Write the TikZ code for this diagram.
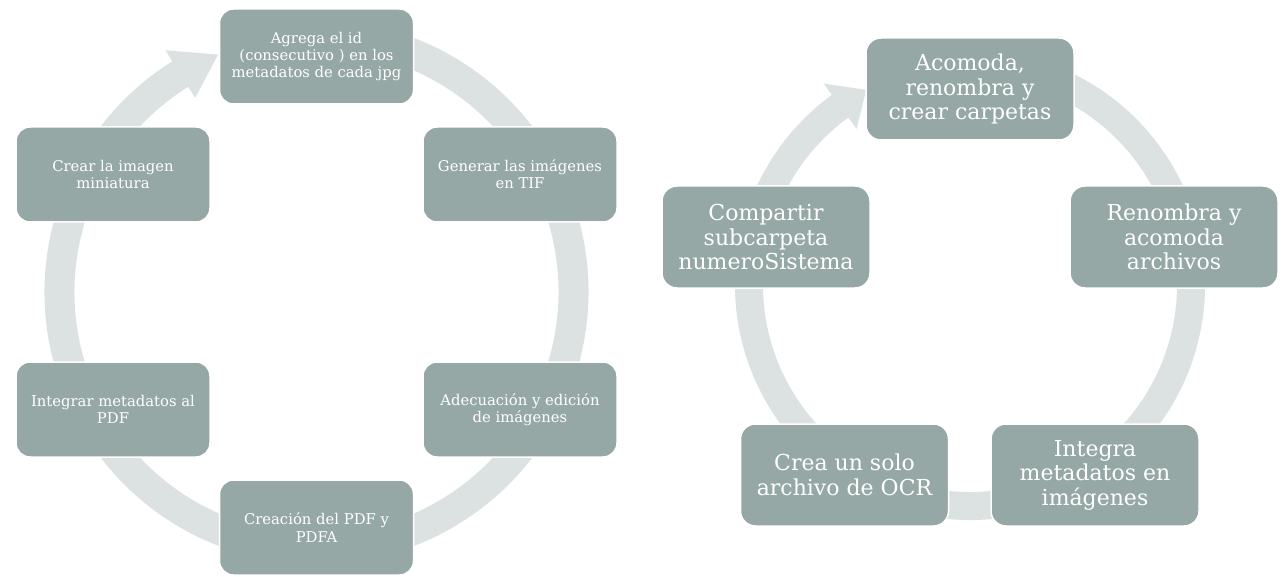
\documentclass[tikz,border=0pt]{standalone}
\usepackage{fontspec}
\setmainfont{DejaVu Serif}
\usetikzlibrary{calc}
\definecolor{boxfill}{HTML}{95A8A5}
\definecolor{ringfill}{HTML}{DCE2E2}
\begin{document}
\begin{tikzpicture}[x=1pt,y=1pt,
  lbox/.style={rectangle, rounded corners=14pt, fill=boxfill, draw=white, line width=1.5pt,
    minimum width=194pt, minimum height=95pt, text=white, align=center, inner sep=0pt,
    font=\fontsize{14.8}{17.2}\selectfont},
  rbox/.style={rectangle, rounded corners=15pt, fill=boxfill, draw=white, line width=1.5pt,
    minimum width=208pt, minimum height=102pt, text=white, align=center, inner sep=0pt,
    font=\fontsize{22}{24.5}\selectfont},
  ringband/.style={fill=ringfill}]
\useasboundingbox (0,0) rectangle (1281,-577);
\fill[white] (0,0) rectangle (1281,-577);
% centres of the two cycles
\coordinate (cL) at (316.5,-292);
\coordinate (cR) at (970,-285);
% left cycle band with arrowhead
\fill[ringband] ($(cL)+(80:272)$) arc[start angle=80, end angle=-238, radius=272]
  -- ($(cL)+(-238:285)$) -- ($(cL)+(-247.5:257)$) -- ($(cL)+(-238:229)$)
  -- ($(cL)+(-238:242)$) arc[start angle=-238, end angle=80, radius=242] -- cycle;
% right cycle band with arrowhead
\fill[ringband] ($(cR)+(80:235)$) arc[start angle=80, end angle=-234, radius=235]
  -- ($(cR)+(-234:249)$) -- ($(cR)+(-242:221)$) -- ($(cR)+(-234:193)$)
  -- ($(cR)+(-234:207)$) arc[start angle=-234, end angle=80, radius=207] -- cycle;
% left nodes
\node[lbox] (l1) at (316.5,-56.5) {Agrega el id\\(consecutivo ) en los\\metadatos de cada jpg};
\node[lbox] (l2) at (520,-174.5) {Generar las imágenes\\en TIF};
\node[lbox] (l3) at (520,-409.5) {Adecuación y edición\\de imágenes};
\node[lbox] (l4) at (316.5,-527.5) {Creación del PDF y\\PDFA};
\node[lbox] (l5) at (113,-409.5) {Integrar metadatos al\\PDF};
\node[lbox] (l6) at (113,-174.5) {Crear la imagen\\miniatura};
% right nodes
\node[rbox] (r1) at (970,-89) {Acomoda,\\renombra y\\crear carpetas};
\node[rbox] (r2) at (1174,-237) {Renombra y\\acomoda\\archivos};
\node[rbox] (r3) at (1095,-475) {Integra\\metadatos en\\imágenes};
\node[rbox] (r4) at (844.5,-475) {Crea un solo\\archivo de OCR};
\node[rbox] (r5) at (766,-237) {Compartir\\subcarpeta\\numeroSistema};
\end{tikzpicture}
\end{document}
